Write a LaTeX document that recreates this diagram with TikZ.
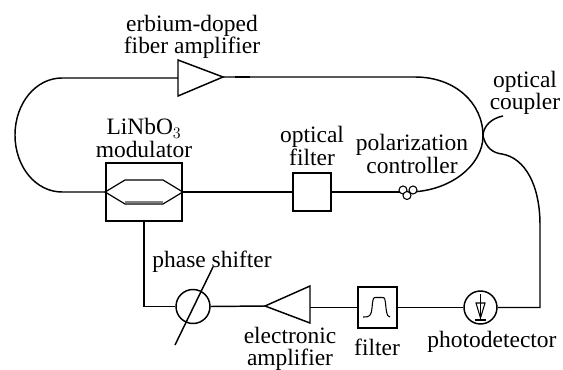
\documentclass[tikz,border=0pt]{standalone}
\usepackage{fontspec}
\setmainfont{Liberation Serif}
\tikzset{every picture/.style={line width=1.1pt}}
\tikzset{
  boxnode/.style={draw,rectangle,inner sep=0pt},
  ringnode/.style={draw,circle,inner sep=0pt,minimum size=24.75pt},
  pcnode/.style={draw,circle,inner sep=0pt,minimum size=6pt,line width=0.8pt,fill=white},
  labelnode/.style={inner sep=0.75pt,font=\fontsize{17.6pt}{17pt}\selectfont,align=center}
}
\begin{document}
\begin{tikzpicture}[x=0.75pt,y=0.75pt,yscale=-1,xscale=1]
\useasboundingbox (0,0) rectangle (563,370);

% Blocks
\node (modbox) [boxnode,line width=1.3pt,minimum width=57pt,minimum height=43.5pt] at (144,192) {};
\node (optfilter) [boxnode,minimum width=28.5pt,minimum height=28.5pt] at (312,192) {};
\node (elecfilter) [boxnode,minimum width=29pt,minimum height=30.5pt] at (377.5,307.5) {};
\node (shifter) [ringnode,minimum size=25.5pt] at (193,306.5) {};
\node (detector) [ringnode] at (480.5,307.5) {};

%Amplifier triangles
\coordinate (edfatop) at (178,60);
\coordinate (edfatip) at (223,77);
\coordinate (edfabot) at (178,96);
\coordinate (edfain) at (178,78);
\draw (edfatop) -- (edfatip) -- (edfabot) -- cycle;
\coordinate (eamptop) at (310,286);
\coordinate (eamptip) at (265,306);
\coordinate (eampbot) at (310,323);
\coordinate (eampin) at (310,307.5);
\draw (eamptop) -- (eamptip) -- (eampbot) -- cycle;

%Fiber loop
\coordinate (splice) at (483,136);
\draw (edfain) -- (62,78) .. controls (36,78) and (15,103) .. (15,135) .. controls (15,167) and (36,192) .. (62,192) -- (modbox.west);
\draw (edfatip) -- (415,77) .. controls (455,77) and (483,103) .. (splice) .. controls (483,165) and (450,192) .. (408,192);
\draw [line width=1.7pt] (optfilter.east) -- (408,192);
\draw (modbox.east) -- (optfilter.west);
\draw [line width=2pt] (235,77) -- (250,77);

%Coupler arms
\coordinate (tapend) at (503,116);
\coordinate (outbend) at (540,225);
\coordinate (outcorner) at (540,307.5);
\draw (tapend) .. controls (492,118) and (483,126) .. (splice);
\draw (splice) .. controls (486,148) and (493,153) .. (502,154) .. controls (525,158) and (540,185) .. (outbend) -- (outcorner) -- (detector.east);

%Electronic path
\coordinate (modcorner) at (144,306.5);
\draw (detector.west) -- (elecfilter.east);
\draw (elecfilter.west) -- (eampin);
\draw (eamptip) -- (shifter.east);
\draw (shifter.west) -- (modcorner) -- (modbox.south);
\coordinate (slashtop) at (213,267);
\coordinate (slashbot) at (175,345);
\draw (slashtop) -- (slashbot);

%Waveguide
\coordinate (armtl) at (125,180);
\coordinate (armtr) at (163,180);
\coordinate (armbl) at (125,204);
\coordinate (armbr) at (163,204);
\draw [line width=0.9pt] (modbox.west) -- (armtl) -- (armtr) -- (modbox.east) -- (armbr) -- (armbl) -- cycle;
\draw [line width=1pt,gray] (armbl) ++(0,-2) -- ++(38,0);

%Polarization controller
\node (pcleft) [pcnode] at (403,190) {};
\node (pcright) [pcnode] at (413,190) {};
\node (pcmid) [pcnode] at (407,195.5) {};

%Passband
\draw [line width=0.8pt] (363,317) .. controls (370,317) and (371,316) .. (372,308) .. controls (373,298) and (373,297.5) .. (376,297.5) -- (382,297.5) .. controls (385,297.5) and (385,298) .. (386,308) .. controls (387,316) and (388,317) .. (390,317);

%Photodiode
\draw [line width=0.8pt] (480.5,294) -- (480.5,321);
\draw [line width=0.8pt] (476,303) -- (485,303) -- (480.5,318) -- cycle;
\draw [line width=0.8pt] (475,320) -- (486,320);

% Text Node
\node (edfalabel) [labelnode] at (192,37) {erbium-doped\\fiber amplifier};
% Text Node
\node (modlabel) [labelnode] at (144,138) {LiNbO$_3$\\modulator};
% Text Node
\node (filterlabel) [labelnode] at (312,146) {optical\\filter};
% Text Node
\node (pclabel) [labelnode] at (412,154) {polarization\\controller};
% Text Node
\node (couplerlabel) [labelnode] at (525,93) {optical\\coupler};
% Text Node
\node (shifterlabel) [labelnode] at (212,262) {phase shifter};
% Text Node
\node (eamplabel) [labelnode] at (290,349) {electronic\\amplifier};
% Text Node
\node (elecfilterlabel) [labelnode] at (377,347) {filter};
% Text Node
\node (detectorlabel) [labelnode] at (492,342) {photodetector};

\end{tikzpicture}
\end{document}
